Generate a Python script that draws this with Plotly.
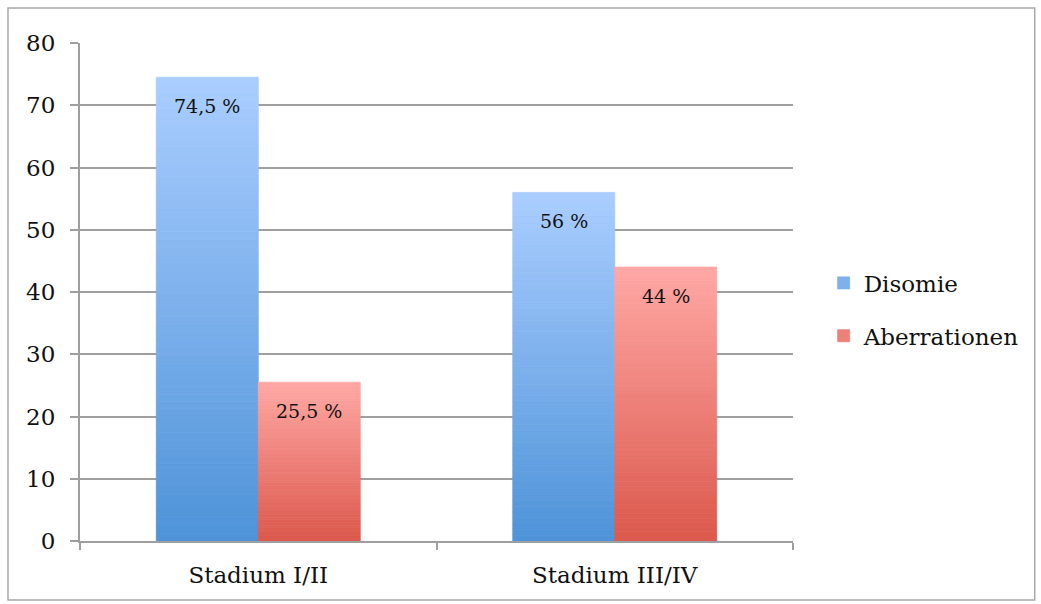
import plotly.graph_objects as go

# Chart data
categories = ["Stadium I/II", "Stadium III/IV"]
disomie = [74.5, 56]
aberrationen = [25.5, 44]
series_names = ["Disomie", "Aberrationen"]

# Gradient colours (top -> bottom) per series
grad = {
    "Disomie": ((0xAA, 0xCD, 0xFF), (0x4E, 0x93, 0xD8)),
    "Aberrationen": ((0xFF, 0xA8, 0xA5), (0xDB, 0x58, 0x4C)),
}
N_SEG = 60


def mix(c_top, c_bot, t):
    # t = 0 at bottom, 1 at top
    return "rgb({},{},{})".format(*[round(b + (a - b) * t) for a, b in zip(c_top, c_bot)])


def fmt(v):
    s = ("%g" % v).replace(".", ",")
    return s + " %"


fig = go.Figure()

for name, values in zip(series_names, [disomie, aberrationen]):
    top, bot = grad[name]
    for k in range(N_SEG):
        t = (k + 0.5) / N_SEG
        col = mix(top, bot, t)
        fig.add_trace(go.Bar(
            x=categories,
            y=[v / N_SEG for v in values],
            base=[v * k / N_SEG for v in values],
            offsetgroup=name,
            legendgroup=name,
            name=name,
            showlegend=(k == N_SEG // 2),
            marker=dict(color=col, line=dict(width=0.8, color=col)),
            hoverinfo="skip",
        ))

# Value labels inside the top of each bar
font_family = "DejaVu Serif"
for i, (name, values) in enumerate(zip(series_names, [disomie, aberrationen])):
    shift = -51 if i == 0 else 51
    for cat, v in zip(categories, values):
        fig.add_annotation(
            x=cat, y=v, xref="x", yref="y",
            text=fmt(v), showarrow=False,
            xshift=shift, yshift=-29,
            font=dict(family=font_family, size=19, color="#111111"),
        )

grid_c = "#9f9f9f"
fig.update_layout(
    width=1041, height=604,
    margin=dict(l=80, r=248, t=43, b=63),
    paper_bgcolor="white", plot_bgcolor="white",
    barmode="group", bargap=0.428, bargroupgap=0,
    font=dict(family=font_family, size=23, color="#111111"),
    legend=dict(
        x=1.043, y=0.465, xanchor="left", yanchor="middle",
        font=dict(family=font_family, size=23, color="#111111"),
        tracegroupgap=20, traceorder="grouped",
        bgcolor="rgba(0,0,0,0)",
    ),
    xaxis=dict(
        showline=True, linecolor=grid_c, linewidth=2,
        ticks="outside", tickson="boundaries", ticklen=7, tickcolor=grid_c, tickwidth=2,
        showgrid=False, fixedrange=True, ticklabelstandoff=12,
    ),
    yaxis=dict(
        range=[0, 80], dtick=10, showline=True, linecolor=grid_c, linewidth=2,
        ticks="outside", ticklen=8, tickcolor=grid_c, tickwidth=2,
        showgrid=True, gridcolor=grid_c, gridwidth=2,
        zeroline=False, ticklabelstandoff=10,
    ),
    shapes=[dict(
        type="rect", xref="paper", yref="paper",
        x0=-0.101, x1=1.339, y0=-0.1185, y1=1.0703,
        line=dict(color="#a8a8a8", width=1.5), fillcolor="rgba(0,0,0,0)",
        layer="below",
    )],
)

fig.write_html("out.html")
